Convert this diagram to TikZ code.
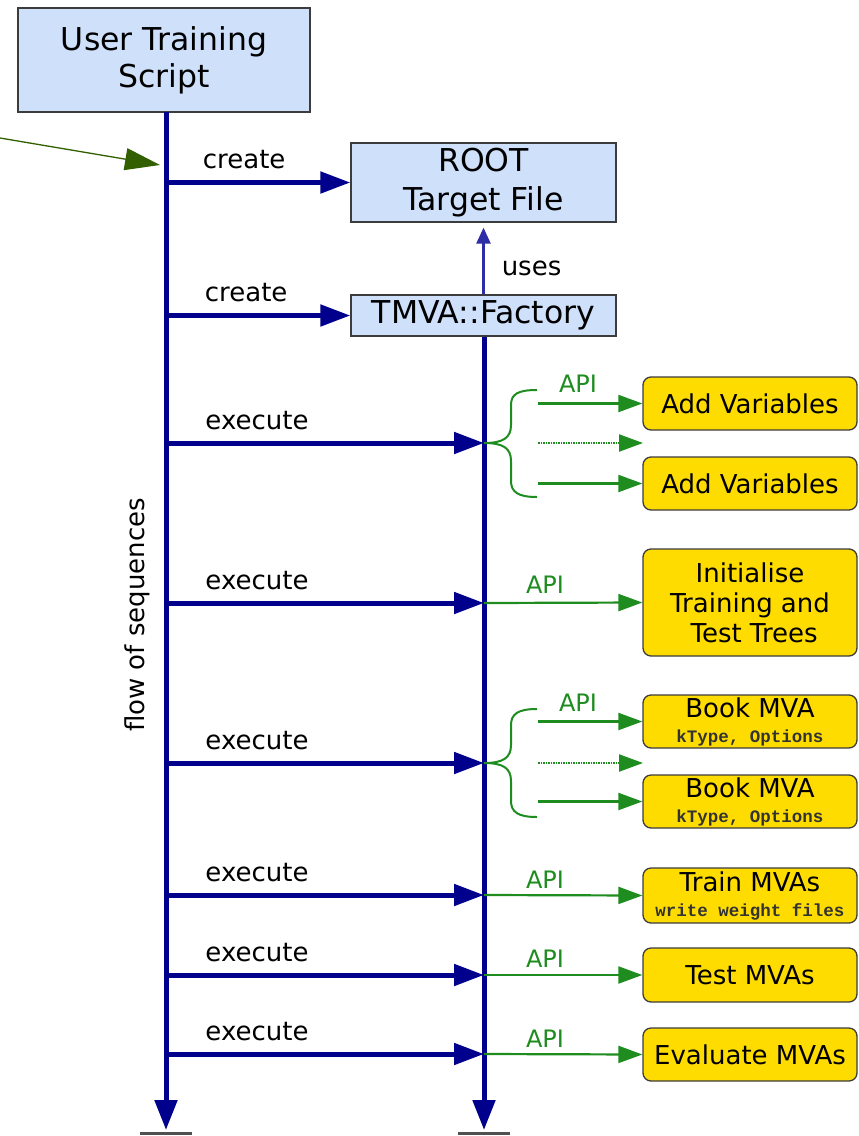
\documentclass[tikz,border=0pt]{standalone}
\usepackage{fontspec}
\setmainfont{DejaVu Sans}
\setmonofont{Liberation Mono}
\usetikzlibrary{arrows.meta}
\definecolor{flowblue}{RGB}{0,0,140}
\definecolor{usesblue}{RGB}{45,45,165}
\definecolor{apigreen}{RGB}{30,140,30}
\definecolor{notegreen}{RGB}{50,95,0}
\definecolor{classfill}{RGB}{207,224,251}
\definecolor{methfill}{RGB}{255,220,0}
\definecolor{edge}{RGB}{60,60,60}
\newcommand\argtxt[1]{{\fontsize{17.5}{20}\selectfont\ttfamily\bfseries\color{edge!85!black}#1}}
\tikzset{
  classbox/.style={draw=edge, line width=1.3pt, fill=classfill, align=center,
    inner sep=0pt, font=\fontsize{31.5}{37}\selectfont},
  methbox/.style={draw=edge, line width=1.3pt, fill=methfill, rounded corners=8pt,
    align=center, inner sep=0pt, minimum width=214pt, font=\fontsize{26}{30}\selectfont},
  lifeline/.style={draw=flowblue, line width=5pt, -{Triangle[length=30pt,width=22pt]}},
  callarrow/.style={draw=flowblue, line width=5pt, -{Triangle[length=30pt,width=21pt]}},
  apiarrow/.style={draw=apigreen, line width=2.2pt, -{Triangle[length=24pt,width=17pt]}},
  apidots/.style={apiarrow, dash pattern=on 1.5pt off 1pt},
  bracepath/.style={draw=apigreen, line width=2pt},
  ground/.style={draw=edge!90, line width=3pt},
  lbl/.style={font=\fontsize{26}{30}\selectfont, inner sep=0pt},
  apilbl/.style={font=\fontsize{24}{28}\selectfont, text=apigreen, inner sep=0pt}
}
\begin{document}
\begin{tikzpicture}[x=1pt, y=-1pt]
\useasboundingbox (0,0) rectangle (859,1136);

% participants
\node[classbox, minimum width=292pt, minimum height=104pt] (user) at (164,60) {User Training\\Script};
\node[classbox, minimum width=265pt, minimum height=79pt, font=\fontsize{31.5}{39}\selectfont] (root) at (483.5,182.5) {ROOT\\Target File};
\node[classbox, minimum width=265pt, minimum height=41pt] (factory) at (483.5,315.5) {TMVA::Factory};

% lifelines
\coordinate (Ltop) at (166,112);
\coordinate (Lend) at (166,1130);
\coordinate (Rend) at (484,1130);
\draw[lifeline] (Ltop) -- (Lend);
\draw[lifeline] (factory.south -| Rend) -- (Rend);
\draw[ground] (140,1133) -- (192,1133);
\draw[ground] (458,1133) -- (510,1133);

% note pointer
\coordinate (noteA) at (0,138);
\coordinate (noteB) at (160,165);
\draw[notegreen, line width=1.3pt, -{Triangle[length=35pt,width=22pt]}] (noteA) -- (noteB);

% flow label
\node[lbl, rotate=90] (flow) at (137,615) {flow of sequences};

% creation
\draw[callarrow] (root.west -| Ltop) -- (root.west) node[lbl, midway, above=11pt, xshift=-14pt] {create};
\draw[callarrow] (factory.west -| Ltop) -- (factory.west) node[lbl, midway, above=11pt, xshift=-12pt] {create};
\draw[draw=usesblue, line width=2.5pt, -{Triangle[length=16pt,width=14pt]}] (factory.north) -- ([yshift=-5pt]root.south)
  node[lbl, midway, right=17pt, yshift=-7pt] {uses};

% method boxes
\node[methbox, minimum height=53pt] (av1) at (750,403.5) {Add Variables};
\node[methbox, minimum height=53pt] (av2) at (750,483.5) {Add Variables};
\node[methbox, minimum height=107pt] (init) at (750,602.5) {Initialise\\Training and\\\ Test Trees};
\node[methbox, minimum height=53pt] (bm1) at (750,721.5) {Book MVA\\[-5pt]\argtxt{kType, Options}};
\node[methbox, minimum height=53pt] (bm2) at (750,801.5) {Book MVA\\[-5pt]\argtxt{kType, Options}};
\node[methbox, minimum height=55pt] (train) at (750,895.5) {Train MVAs\\[-5pt]\argtxt{write weight files}};
\node[methbox, minimum height=54pt] (test) at (750,975) {Test MVAs};
\node[methbox, minimum height=53pt] (eval) at (750,1054.5) {Evaluate MVAs};

% execute calls
\foreach \y/\n in {443/a,603/b,763/c,895/d,975/e,1054/f}{
  \coordinate (L\n) at (166,\y);
  \coordinate (R\n) at (484,\y);
  \draw[callarrow] (L\n) -- (R\n) node[lbl, midway, above=11pt, xshift=-68pt] {execute};
}

% Add Variables group
\draw[bracepath] (Ra) .. controls (503,443) and (511,438) .. (511,425) -- (511,405)
  .. controls (511,394) and (518,390) .. (537,390);
\draw[bracepath] (Ra) .. controls (503,443) and (511,448) .. (511,461) -- (511,481)
  .. controls (511,492) and (518,497) .. (537,497);
\coordinate (a1) at (538,403.5);
\coordinate (a2) at (538,443);
\coordinate (a3) at (538,483.5);
\coordinate (a2e) at (643,443);
\draw[apiarrow] (a1) -- (av1.west);
\draw[apidots] (a2) -- (a2e);
\draw[apiarrow] (a3) -- (av2.west);
\node[apilbl] (api1) at (578,384) {API};

% Initialise
\draw[apiarrow] (Rb) -- (init.west);
\node[apilbl] (api2) at (545,585) {API};

% Book MVA group
\draw[bracepath] (Rc) .. controls (503,763) and (511,758) .. (511,745) -- (511,725)
  .. controls (511,714) and (518,709) .. (537,709);
\draw[bracepath] (Rc) .. controls (503,763) and (511,768) .. (511,781) -- (511,801)
  .. controls (511,812) and (518,817) .. (537,817);
\coordinate (c1) at (538,721.5);
\coordinate (c2) at (538,763);
\coordinate (c3) at (538,801.5);
\coordinate (c2e) at (643,763);
\draw[apiarrow] (c1) -- (bm1.west);
\draw[apidots] (c2) -- (c2e);
\draw[apiarrow] (c3) -- (bm2.west);
\node[apilbl] (api3) at (578,703) {API};

% remaining calls
\draw[apiarrow] (Rd) -- (train.west);
\node[apilbl] (api4) at (545,880) {API};
\draw[apiarrow] (Re) -- (test.west);
\node[apilbl] (api5) at (545,959) {API};
\draw[apiarrow] (Rf) -- (eval.west);
\node[apilbl] (api6) at (545,1039) {API};
\end{tikzpicture}
\end{document}
